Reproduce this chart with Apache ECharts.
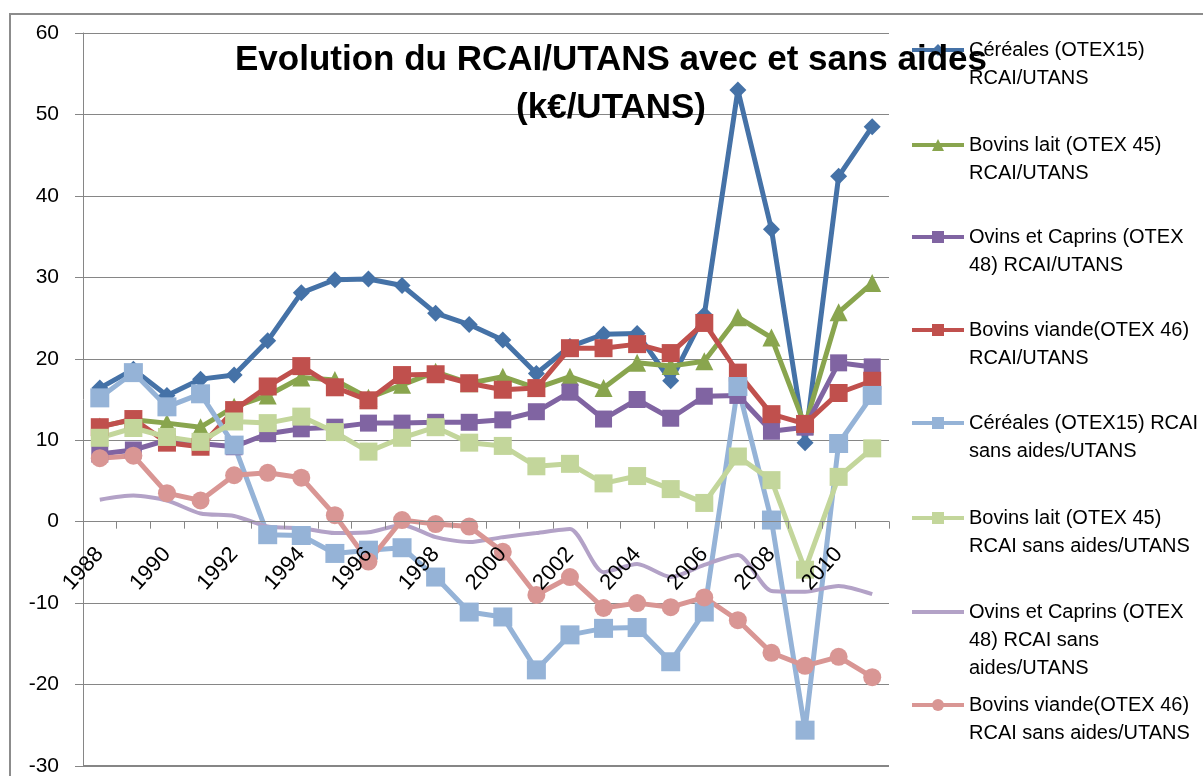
<!DOCTYPE html>
<html lang="fr">
<head>
  <meta charset="UTF-8" />
  <title>Evolution du RCAI/UTANS</title>
  <script src="https://cdn.jsdelivr.net/npm/echarts/dist/echarts.min.js"></script>
  <style>
    html, body { margin: 0; padding: 0; width: 100%; height: 100%; overflow: hidden; background: #fff; }
    #chart { width: 1203px; height: 776px; }
  </style>
</head>
<body>
  <div id="chart"></div>
<script>
  // years on the category axis
  var years = ['1988', '1989', '1990', '1991', '1992', '1993', '1994', '1995', '1996', '1997', '1998', '1999',
    '2000', '2001', '2002', '2003', '2004', '2005', '2006', '2007', '2008', '2009', '2010', '2011'];

  var seriesNames = [
    'Céréales (OTEX15) RCAI/UTANS',
    'Bovins lait (OTEX 45) RCAI/UTANS',
    'Ovins et Caprins (OTEX 48) RCAI/UTANS',
    'Bovins viande(OTEX 46) RCAI/UTANS',
    'Céréales (OTEX15) RCAI sans aides/UTANS',
    'Bovins lait (OTEX 45) RCAI sans aides/UTANS',
    'Ovins et Caprins (OTEX 48) RCAI sans aides/UTANS',
    'Bovins viande(OTEX 46) RCAI sans aides/UTANS'
  ];
  // legend text as wrapped in the original
  var legendLabels = [
    'Céréales (OTEX15)\nRCAI/UTANS',
    'Bovins lait (OTEX 45)\nRCAI/UTANS',
    'Ovins et Caprins (OTEX\n48) RCAI/UTANS',
    'Bovins viande(OTEX 46)\nRCAI/UTANS',
    'Céréales (OTEX15) RCAI\nsans aides/UTANS',
    'Bovins lait (OTEX 45)\nRCAI sans aides/UTANS',
    'Ovins et Caprins (OTEX\n48) RCAI sans\naides/UTANS',
    'Bovins viande(OTEX 46)\nRCAI sans aides/UTANS'
  ];

  var cerealesAvec = [16.4, 18.7, 15.5, 17.5, 18.0, 22.2, 28.1, 29.7, 29.8, 29.0, 25.6, 24.2,
    22.3, 18.2, 21.5, 23.0, 23.1, 17.3, 25.4, 53.0, 35.9, 9.7, 42.4, 48.5];
  var bovinsLaitAvec = [11.7, 12.5, 12.1, 11.6, 14.1, 15.5, 17.7, 17.4, 15.2, 16.8, 18.4, 17.0,
    17.8, 16.4, 17.8, 16.4, 19.5, 19.1, 19.7, 25.1, 22.6, 11.8, 25.7, 29.3];
  var ovinsAvec = [8.3, 8.8, 10.0, 9.6, 9.2, 10.8, 11.4, 11.6, 12.1, 12.1, 12.2, 12.2,
    12.5, 13.5, 15.9, 12.6, 15.0, 12.7, 15.4, 15.5, 11.1, 11.6, 19.5, 19.0];
  var bovinsViandeAvec = [11.6, 12.6, 9.7, 9.2, 13.7, 16.6, 19.1, 16.5, 14.9, 18.0, 18.1, 17.0,
    16.2, 16.4, 21.3, 21.3, 21.8, 20.7, 24.4, 18.3, 13.2, 12.0, 15.8, 17.3];
  var cerealesSans = [15.2, 18.3, 14.1, 15.7, 9.4, -1.6, -1.7, -3.9, -3.5, -3.2, -6.8, -11.1,
    -11.7, -18.2, -13.9, -13.1, -13.0, -17.2, -11.1, 16.6, 0.2, -25.6, 9.6, 15.5];
  var bovinsLaitSans = [10.3, 11.5, 10.4, 9.8, 12.3, 12.1, 12.9, 11.0, 8.6, 10.3, 11.6, 9.7,
    9.3, 6.8, 7.1, 4.7, 5.6, 4.0, 2.3, 8.0, 5.1, -5.9, 5.5, 9.0];
  var ovinsSans = [2.7, 3.2, 2.6, 1.0, 0.7, -0.6, -0.8, -1.4, -1.3, -0.4, -1.9, -2.5,
    -1.9, -1.4, -0.9, -6.2, -5.2, -6.8, -5.3, -4.1, -8.5, -8.6, -7.9, -8.9];
  var bovinsViandeSans = [7.8, 8.1, 3.5, 2.6, 5.7, 6.0, 5.4, 0.8, -4.9, 0.2, -0.3, -0.6,
    -3.7, -9.0, -6.8, -10.6, -10.0, -10.5, -9.3, -12.1, -16.1, -17.7, -16.6, -19.1];

  var allData = [cerealesAvec, bovinsLaitAvec, ovinsAvec, bovinsViandeAvec,
    cerealesSans, bovinsLaitSans, ovinsSans, bovinsViandeSans];

  var colors = ['#4572A7', '#89A54E', '#8064A2', '#C0504D', '#95B3D7', '#C3D69B', '#B3A2C7', '#D99694'];
  var symbols = ['diamond', 'triangle', 'rect', 'rect', 'rect', 'rect', 'none', 'circle'];
  var symbolSizes = [17, 18, 17, 18, 19, 18, 0, 18];
  // vertical centre of the first line of each legend entry
  var legendFirstLine = [50, 145, 237, 330, 423, 518, 612, 705];

  var font = 'Liberation Sans, Arial, sans-serif';
  var LH = 28;
  var gridTop = 33, gridBottom = 10, H = 776;
  // the category axis crosses the value axis at 0 (Excel style)
  var zeroOffset = -((H - gridTop - gridBottom) * 30 / 90);

  var chart = echarts.init(document.getElementById('chart'));

  var series = seriesNames.map(function (name, i) {
    return {
      name: name,
      type: 'line',
      data: allData[i],
      symbol: symbols[i],
      symbolSize: symbolSizes[i],
      smooth: i === 6 ? 0.25 : false,
      showSymbol: symbols[i] !== 'none',
      lineStyle: { color: colors[i], width: i === 6 ? 4 : 5 },
      itemStyle: { color: colors[i] },
      emphasis: { disabled: true },
      animation: false
    };
  });

  var legends = seriesNames.map(function (name, i) {
    var n = legendLabels[i].split('\n').length;
    // blank lines in front so the icon sits on the first text line
    var pad = new Array(n).join('\n');
    var lg = {
      data: [name],
      orient: 'vertical',
      left: 910,
      top: legendFirstLine[i] - (2 * n - 1) * LH / 2,
      padding: 0,
      itemWidth: 52,
      itemHeight: 15,
      selectedMode: false,
      formatter: function () { return pad + legendLabels[i]; },
      lineStyle: { width: 4 },
      textStyle: {
        fontFamily: font,
        fontSize: 20,
        lineHeight: LH,
        color: '#000'
      }
    };
    if (symbols[i] === 'none') lg.itemStyle = { opacity: 0 };
    return lg;
  });

  var option = {
    backgroundColor: '#fff',
    animation: false,
    color: colors,
    title: {
      text: 'Evolution du RCAI/UTANS avec et sans aides\n(k€/UTANS)',
      left: 611,
      top: 36,
      padding: 0,
      textAlign: 'center',
      textStyle: {
        fontFamily: font,
        fontSize: 35,
        fontWeight: 'bold',
        lineHeight: 48,
        color: '#000'
      }
    },
    legend: legends,
    grid: { left: 83, right: 314, top: gridTop, bottom: gridBottom, containLabel: false, outerBoundsMode: 'none' },
    xAxis: {
      type: 'category',
      data: years,
      boundaryGap: true,
      offset: zeroOffset,
      z: 10,
      axisLine: { onZero: false, lineStyle: { color: '#868686', width: 1 } },
      axisTick: { show: true, interval: 0, length: 7, lineStyle: { color: '#868686' } },
      axisLabel: {
        interval: 1,
        rotate: 48,
        margin: 29,
        fontFamily: font,
        fontSize: 22,
        color: '#000'
      },
      splitLine: { show: false }
    },
    yAxis: {
      type: 'value',
      min: -30,
      max: 60,
      interval: 10,
      axisLine: { show: true, lineStyle: { color: '#868686', width: 1 } },
      axisTick: { show: true, length: 8, lineStyle: { color: '#868686' } },
      axisLabel: { margin: 24, fontFamily: font, fontSize: 21, color: '#000' },
      splitLine: { show: true, lineStyle: { color: '#868686', width: 1 } }
    },
    graphic: [{
      type: 'rect',
      shape: { x: 10, y: 14, width: 1300, height: 900 },
      style: { fill: 'none', stroke: '#8c8c8c', lineWidth: 2 },
      silent: true,
      z: -1
    }, {
      type: 'line',
      shape: { x1: 83, y1: H - gridBottom, x2: 889, y2: H - gridBottom },
      style: { stroke: '#868686', lineWidth: 2 },
      silent: true
    }],
    series: series
  };

  chart.setOption(option);
</script>
</body>
</html>
